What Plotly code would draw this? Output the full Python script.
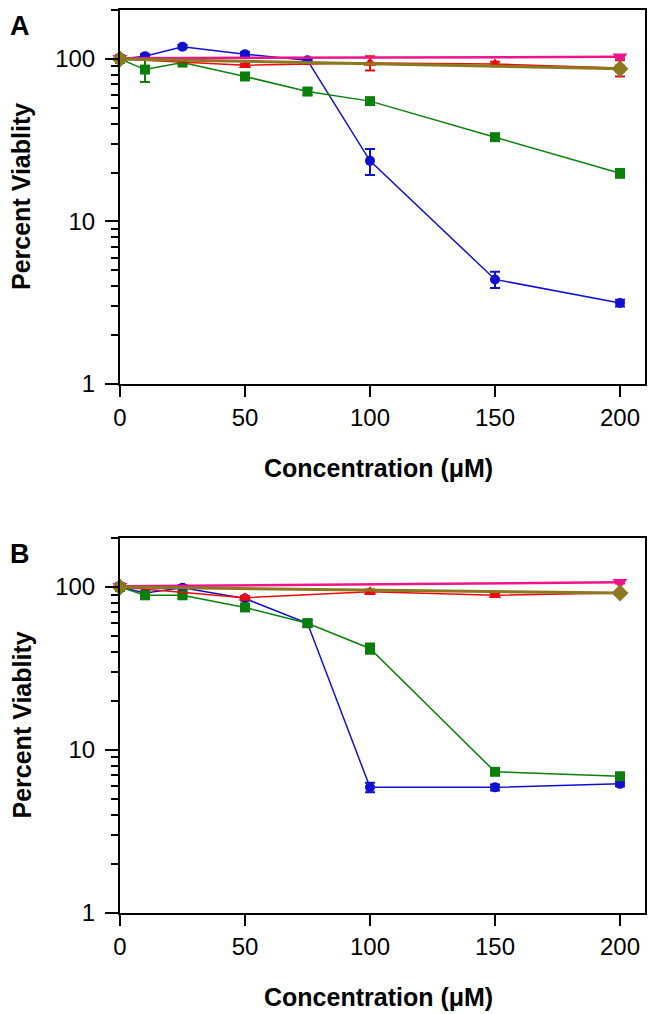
import plotly.graph_objects as go

# ---------------- data ----------------
conc = [0, 10, 25, 50, 75, 100, 150, 200]
red_conc = [0, 50, 100, 150, 200]
end_conc = [0, 200]

A_blue = [100, 104, 119, 107, 98, 23.6, 4.4, 3.15]
A_blue_err = [2, 3, 3, 3, 2, 4.3, 0.5, 0.15]
A_green = [100, 86, 95, 78, 63, 55, 33, 19.8]
A_green_err = [2, 14, 2, 3, 3, 2, 1.5, 1.2]
A_red = [100, 91.5, 94.5, 93, 88]
A_red_err = [3, 2, 9.5, 3, 10]
A_magenta = [101, 103]
A_magenta_err = [2, 2]
A_olive = [100, 87]
A_olive_err = [2, 4]

B_blue = [100, 92, 99, 85, 60, 5.9, 5.9, 6.2]
B_blue_err = [2, 2, 4, 2, 3, 0.4, 0.25, 0.2]
B_green = [100, 89, 89, 75, 60, 42, 7.35, 6.9]
B_green_err = [2, 3, 3, 3, 3, 3, 0.2, 0.3]
B_red = [100, 86, 93.5, 89, 92]
B_red_err = [2, 2, 3, 2, 2]
B_magenta = [101, 107]
B_magenta_err = [2, 2]
B_olive = [100, 92]
B_olive_err = [2, 2]

x_ticks = [0, 50, 100, 150, 200]
y_ticks = [1, 10, 100]
y_ticktext = ["1", "10", "100"]
y_minor = [2, 3, 4, 5, 6, 7, 8, 9, 20, 30, 40, 50, 60, 70, 80, 90, 200]
panel_labels = ["A", "B"]
x_title = "Concentration (\u03bcM)"
y_title = "Percent Viablity"

BLUE = "#1010D0"
GREEN = "#0A800A"
RED = "#EE0A0A"
MAGENTA = "#F0148C"
OLIVE = "#8C781E"

FONT = "Liberation Sans, Arial, sans-serif"

fig = go.Figure()

def add_series(x, y, err, color, symbol, size, lw, xa, ya):
    fig.add_trace(go.Scatter(
        x=x, y=y, mode="lines+markers",
        line=dict(color=color, width=lw),
        marker=dict(color=color, symbol=symbol, size=size, line=dict(width=0)),
        error_y=dict(type="data", array=err, visible=True, color=color,
                     thickness=2, width=5),
        xaxis=xa, yaxis=ya, showlegend=False, cliponaxis=False,
    ))

panels = [
    (A_blue, A_blue_err, A_green, A_green_err, A_red, A_red_err,
     A_magenta, A_magenta_err, A_olive, A_olive_err, "x", "y"),
    (B_blue, B_blue_err, B_green, B_green_err, B_red, B_red_err,
     B_magenta, B_magenta_err, B_olive, B_olive_err, "x2", "y2"),
]
for (bl, ble, gr, gre, rd, rde, mg, mge, ol, ole, xa, ya) in panels:
    add_series(conc, bl, ble, BLUE, "circle", 10, 1.5, xa, ya)
    add_series(conc, gr, gre, GREEN, "square", 10, 1.5, xa, ya)
    add_series(red_conc, rd, rde, RED, "triangle-up", 11, 1.5, xa, ya)
    add_series(end_conc, mg, mge, MAGENTA, "triangle-down", 13, 2.5, xa, ya)
    add_series(end_conc, ol, ole, OLIVE, "diamond", 13, 3, xa, ya)

# geometry: page pixels; the page body adds an 8px offset
OFF = 8
W, H = 656 - OFF, 1014 - OFF
PL, PR, PT, PB = 120, 645, 10, 913   # plot box in page pixels
L, T = PL - OFF, PT - OFF
R = W - (PR - OFF)
B = H - (PB - OFF)
plot_h = H - T - B
plot_w = W - L - R

def py(q):
    return ((PB - OFF) - (q - OFF)) / plot_h

def px(p):
    return (p - PL) / plot_w

domA = [py(384), 1.0]
domB = [0.0, py(538)]

def xaxis_cfg(anchor):
    return dict(
        range=[0, 210], tickvals=x_ticks, ticks="outside", ticklen=11,
        tickwidth=2, tickcolor="black", showline=True, linewidth=2,
        linecolor="black", mirror=True, showgrid=False, zeroline=False,
        tickfont=dict(family=FONT, size=24, color="black"), anchor=anchor,
    )

def yaxis_cfg(dom, anchor):
    return dict(
        type="log", range=[0, 2.30103], domain=dom, tickvals=y_ticks,
        ticktext=y_ticktext, ticks="outside", ticklen=13, tickwidth=2,
        tickcolor="black", showline=True, linewidth=2, linecolor="black",
        mirror=True, showgrid=False, zeroline=False, ticklabelstandoff=5,
        tickfont=dict(family=FONT, size=24, color="black"), anchor=anchor,
        minor=dict(tickmode="array", tickvals=y_minor, ticks="outside",
                   ticklen=7, tickwidth=2, tickcolor="black", showgrid=False),
    )

annotations = []
for lab, top, bottom in [(panel_labels[0], 10, 384), (panel_labels[1], 538, 913)]:
    annotations.append(dict(text="<b>%s</b>" % lab, x=px(20), y=py(top + 16),
                            xref="paper", yref="paper", showarrow=False,
                            xanchor="center", yanchor="middle",
                            font=dict(family=FONT, size=27, color="black")))
    annotations.append(dict(text="<b>%s</b>" % y_title, x=px(21),
                            y=py((top + bottom) / 2), xref="paper", yref="paper",
                            showarrow=False, textangle=-90, xanchor="center",
                            yanchor="middle",
                            font=dict(family=FONT, size=25, color="black")))
    annotations.append(dict(text="<b>%s</b>" % x_title, x=px(378),
                            y=py(bottom + 84), xref="paper", yref="paper",
                            showarrow=False, xanchor="center", yanchor="middle",
                            font=dict(family=FONT, size=25, color="black")))

fig.update_layout(
    width=W, height=H,
    margin=dict(l=L, r=R, t=T, b=B, autoexpand=False),
    paper_bgcolor="white", plot_bgcolor="white",
    xaxis=xaxis_cfg("y"), yaxis=yaxis_cfg(domA, "x"),
    xaxis2=xaxis_cfg("y2"), yaxis2=yaxis_cfg(domB, "x2"),
    annotations=annotations,
    font=dict(family=FONT, color="black"),
)

fig.write_html("out.html")
